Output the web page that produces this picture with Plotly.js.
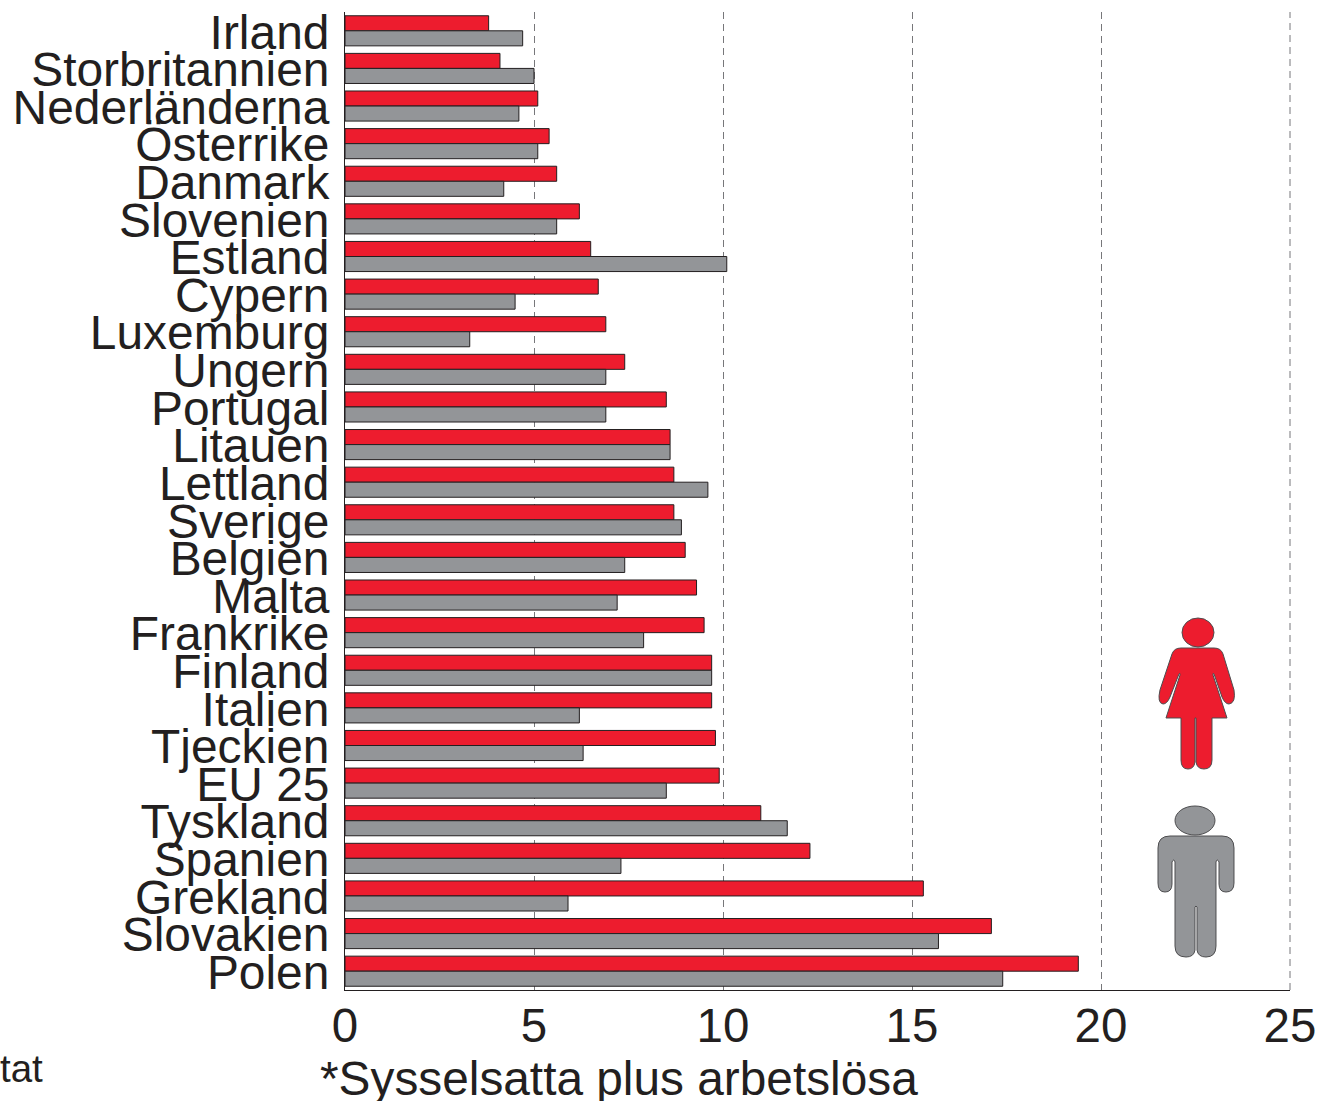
<!DOCTYPE html>
<html><head><meta charset="utf-8">
<script src="https://cdn.plot.ly/plotly-3.0.1.min.js"></script>
<style>html,body{margin:0;padding:0;background:#fff;overflow:hidden}</style>
</head><body><div id="chart" style="width:1320px;height:1101px"></div>
<script>
const countries = ["Irland","Storbritannien","Nederländerna","Österrike","Danmark","Slovenien","Estland","Cypern","Luxemburg","Ungern","Portugal","Litauen","Lettland","Sverige","Belgien","Malta","Frankrike","Finland","Italien","Tjeckien","EU 25","Tyskland","Spanien","Grekland","Slovakien","Polen"];
const women = [3.8,4.1,5.1,5.4,5.6,6.2,6.5,6.7,6.9,7.4,8.5,8.6,8.7,8.7,9.0,9.3,9.5,9.7,9.7,9.8,9.9,11.0,12.3,15.3,17.1,19.4];
const men = [4.7,5.0,4.6,5.1,4.2,5.6,10.1,4.5,3.3,6.9,6.9,8.6,9.6,8.9,7.4,7.2,7.9,9.7,6.2,6.3,8.5,11.7,7.3,5.9,15.7,17.4];
const xTicks = [0,5,10,15,20,25];
const footnote = "*Sysselsatta plus arbetslösa";
const source = "tat";

const W=1320,H=1101,L=345,R=1290,T=12,B=990;
const ink="#231f20", red="#ed1c2e", grey="#939598", gridInk="#77777a", gridDash="7px,5px";
function pic(d){
  return d.replace(/(-?[\d.]+),(-?[\d.]+)/g,(m,x,y)=>((+x-L)/(R-L)).toFixed(5)+","+((B-+y)/(B-T)).toFixed(5));
}
const womanBody="M1181,648 L1214,648 Q1221,648 1223,654 L1234,690 Q1236,703 1229,704 Q1225,704 1222,697 L1214,674 Q1213,672 1213,675 L1227,718 L1212,718 L1212,760 Q1212,769 1204,769 Q1197,769 1196,762 L1196,718 L1195,718 L1195,762 Q1194,769 1188,769 Q1181,769 1181,760 L1181,718 L1166,718 L1180,675 Q1180,672 1179,674 L1170,697 Q1167,704 1163,704 Q1157,703 1160,690 L1172,654 Q1174,648 1181,648 Z";
const manBody="M1170,836 L1222,836 Q1234,836 1234,848 L1234,883 Q1234,892 1226,892 Q1219,892 1219,884 L1219,862 Q1217,858 1216,862 L1216,946 Q1216,957 1206,957 Q1198,957 1197,950 L1197,907 Q1196,905 1195,907 L1195,950 Q1194,957 1186,957 Q1175,957 1175,946 L1175,862 Q1174,858 1172,862 L1172,884 Q1172,892 1165,892 Q1158,892 1158,883 L1158,848 Q1158,836 1170,836 Z";
function head(cx,cy,rx,ry,fill){
  return {type:"circle",xref:"paper",yref:"paper",x0:(cx-rx-L)/(R-L),x1:(cx+rx-L)/(R-L),y0:(B-cy-ry)/(B-T),y1:(B-cy+ry)/(B-T),fillcolor:fill,line:{color:"#4d4d4f",width:1}};
}
function body(d,fill){return {type:"path",xref:"paper",yref:"paper",path:pic(d),fillcolor:fill,line:{color:"#4d4d4f",width:1}};}

const traces=[
 {type:"bar",orientation:"h",name:"Kvinnor",y:countries,x:women,marker:{color:red,line:{color:ink,width:1}}},
 {type:"bar",orientation:"h",name:"Män",y:countries,x:men,marker:{color:grey,line:{color:ink,width:1}}}
];
const layout={
 width:W,height:H,paper_bgcolor:"#fff",plot_bgcolor:"#fff",showlegend:false,
 margin:{l:L,r:W-R,t:T,b:H-B,pad:0},
 barmode:"group",bargap:0.2,bargroupgap:0,
 font:{family:"Liberation Sans, Arial, sans-serif",color:ink},
 xaxis:{range:[0,25],tickvals:xTicks,ticktext:xTicks.map(String),showgrid:true,griddash:gridDash,gridcolor:gridInk,gridwidth:1,zeroline:false,
   showline:true,linecolor:ink,linewidth:1,ticks:"",tickfont:{size:47.5,color:ink},ticklabelstandoff:-6,automargin:false},
 yaxis:{type:"category",categoryorder:"array",categoryarray:countries,autorange:false,range:[25.5,-0.5],showgrid:false,zeroline:false,
   showline:true,linecolor:ink,linewidth:1,ticks:"",tickfont:{size:47.9,color:ink},ticklabelstandoff:5,ticklabelshift:-1,tickmode:"array",tickvals:countries,ticktext:countries,automargin:false},
 shapes:[
  {type:"line",xref:"paper",yref:"paper",x0:1,x1:1,y0:0,y1:1,layer:"below",line:{color:gridInk,width:1,dash:gridDash}},
  body(womanBody,red),head(1198,632.5,16,14.5,red),body(manBody,grey),head(1195,820.5,20,14.5,grey)],
 annotations:[
  {xref:"paper",yref:"paper",x:(319-L)/(R-L),y:(B-1078)/(B-T),xanchor:"left",yanchor:"middle",text:footnote,showarrow:false,font:{size:47.8,color:ink},borderpad:0},
  {xref:"paper",yref:"paper",x:(-1-L)/(R-L),y:(B-1068)/(B-T),xanchor:"left",yanchor:"middle",text:source,showarrow:false,font:{size:38.5,color:ink},borderpad:0}
 ]
};
Plotly.newPlot("chart",traces,layout,{displayModeBar:false,staticPlot:true});
</script></body></html>
